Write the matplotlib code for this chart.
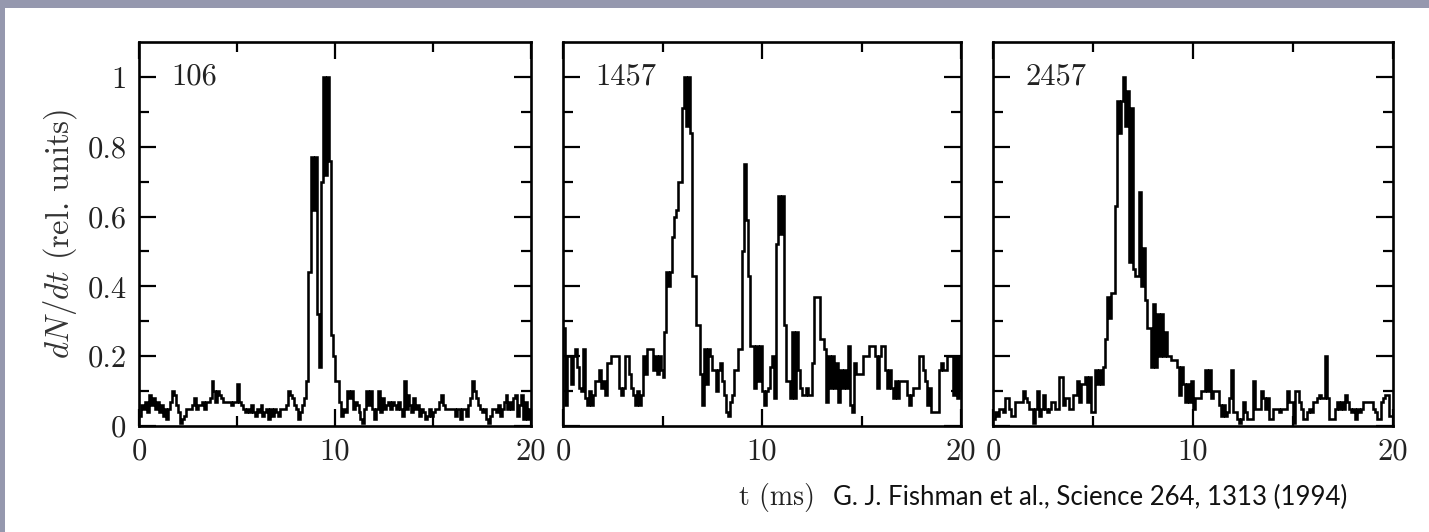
import numpy as np
import matplotlib
matplotlib.use("Agg")
import matplotlib.pyplot as plt
from matplotlib.patches import Rectangle

plt.rcParams['mathtext.fontset'] = 'cm'

# ---------------- data (0.1 ms bins, 0-20 ms) ----------------
BIN_WIDTH = 0.1
trigger_labels = ["106", "1457", "2457"]

counts_106 = [
    0.03, 0.06, 0.05, 0.07, 0.04, 0.09, 0.06, 0.08, 0.05, 0.07,
    0.04, 0.06, 0.03, 0.05, 0.02, 0.05, 0.07, 0.10, 0.09, 0.06,
    0.04, 0.01, 0.02, 0.03, 0.05, 0.05, 0.05, 0.06, 0.08, 0.05,
    0.06, 0.06, 0.07, 0.05, 0.07, 0.07, 0.08, 0.13, 0.10, 0.07,
    0.10, 0.09, 0.08, 0.07, 0.07, 0.07, 0.07, 0.06, 0.07, 0.07,
    0.12, 0.07, 0.06, 0.05, 0.04, 0.05, 0.04, 0.06, 0.04, 0.03,
    0.05, 0.04, 0.06, 0.03, 0.04, 0.05, 0.02, 0.05, 0.03, 0.05,
    0.04, 0.03, 0.05, 0.05, 0.05, 0.06, 0.10, 0.09, 0.08, 0.06,
    0.05, 0.02, 0.04, 0.06, 0.08, 0.13, 0.44, 0.44, 0.77, 0.62,
    0.77, 0.32, 0.17, 0.70, 1.00, 0.72, 1.00, 0.76, 0.26, 0.20,
    0.13, 0.13, 0.07, 0.03, 0.05, 0.04, 0.10, 0.08, 0.10, 0.05,
    0.07, 0.06, 0.04, 0.02, 0.01, 0.05, 0.10, 0.06, 0.10, 0.05,
    0.02, 0.05, 0.10, 0.04, 0.08, 0.05, 0.06, 0.07, 0.05, 0.07,
    0.06, 0.05, 0.07, 0.05, 0.03, 0.13, 0.05, 0.09, 0.06, 0.04,
    0.08, 0.05, 0.06, 0.03, 0.05, 0.04, 0.02, 0.03, 0.05, 0.03,
    0.04, 0.05, 0.05, 0.07, 0.09, 0.06, 0.05, 0.05, 0.05, 0.05,
    0.05, 0.03, 0.05, 0.05, 0.02, 0.05, 0.05, 0.03, 0.06, 0.08,
    0.13, 0.10, 0.08, 0.06, 0.05, 0.04, 0.05, 0.02, 0.01, 0.03,
    0.05, 0.05, 0.04, 0.06, 0.03, 0.05, 0.07, 0.09, 0.05, 0.07,
    0.05, 0.08, 0.09, 0.03, 0.06, 0.09, 0.02, 0.07, 0.02, 0.05,
]

counts_1457 = [
    0.28, 0.06, 0.20, 0.20, 0.12, 0.20, 0.22, 0.17, 0.11, 0.10,
    0.22, 0.08, 0.06, 0.10, 0.06, 0.09, 0.13, 0.13, 0.16, 0.11,
    0.13, 0.09, 0.18, 0.18, 0.20, 0.20, 0.20, 0.20, 0.11, 0.09,
    0.11, 0.20, 0.20, 0.15, 0.11, 0.09, 0.06, 0.10, 0.06, 0.09,
    0.20, 0.15, 0.22, 0.22, 0.22, 0.16, 0.20, 0.15, 0.20, 0.16,
    0.14, 0.27, 0.44, 0.40, 0.44, 0.54, 0.60, 0.62, 0.70, 0.70,
    0.91, 1.00, 0.86, 1.00, 0.84, 0.43, 0.43, 0.29, 0.29, 0.15,
    0.06, 0.22, 0.12, 0.22, 0.20, 0.16, 0.16, 0.10, 0.16, 0.18,
    0.13, 0.09, 0.04, 0.03, 0.07, 0.09, 0.16, 0.16, 0.22, 0.22,
    0.50, 0.75, 0.59, 0.43, 0.23, 0.23, 0.11, 0.23, 0.13, 0.23,
    0.10, 0.06, 0.10, 0.11, 0.17, 0.20, 0.08, 0.52, 0.66, 0.55,
    0.66, 0.29, 0.13, 0.13, 0.08, 0.27, 0.08, 0.27, 0.16, 0.11,
    0.09, 0.09, 0.11, 0.09, 0.09, 0.18, 0.37, 0.37, 0.37, 0.25,
    0.25, 0.22, 0.07, 0.20, 0.11, 0.20, 0.11, 0.18, 0.07, 0.16,
    0.11, 0.16, 0.11, 0.23, 0.06, 0.04, 0.18, 0.15, 0.15, 0.15,
    0.15, 0.20, 0.20, 0.20, 0.23, 0.23, 0.23, 0.20, 0.11, 0.20,
    0.23, 0.23, 0.16, 0.11, 0.16, 0.11, 0.08, 0.13, 0.08, 0.13,
    0.13, 0.13, 0.13, 0.09, 0.06, 0.09, 0.11, 0.11, 0.11, 0.20,
    0.20, 0.16, 0.13, 0.06, 0.11, 0.04, 0.04, 0.04, 0.04, 0.16,
    0.18, 0.16, 0.16, 0.20, 0.20, 0.20, 0.09, 0.20, 0.08, 0.20,
]

counts_2457 = [
    0.02, 0.04, 0.03, 0.05, 0.05, 0.04, 0.08, 0.08, 0.05, 0.03,
    0.03, 0.07, 0.07, 0.07, 0.07, 0.10, 0.08, 0.07, 0.05, 0.05,
    0.01, 0.05, 0.10, 0.03, 0.05, 0.09, 0.05, 0.04, 0.05, 0.07,
    0.07, 0.05, 0.05, 0.14, 0.14, 0.06, 0.08, 0.08, 0.05, 0.05,
    0.09, 0.09, 0.13, 0.07, 0.12, 0.12, 0.14, 0.07, 0.14, 0.04,
    0.04, 0.16, 0.12, 0.16, 0.12, 0.17, 0.25, 0.37, 0.31, 0.38,
    0.38, 0.63, 0.93, 0.84, 0.93, 1.00, 0.86, 0.96, 0.47, 0.91,
    0.45, 0.43, 0.43, 0.67, 0.40, 0.51, 0.36, 0.28, 0.28, 0.17,
    0.35, 0.17, 0.32, 0.20, 0.32, 0.20, 0.27, 0.20, 0.20, 0.19,
    0.19, 0.19, 0.17, 0.09, 0.17, 0.12, 0.07, 0.12, 0.07, 0.13,
    0.05, 0.08, 0.08, 0.08, 0.10, 0.10, 0.16, 0.10, 0.16, 0.08,
    0.10, 0.10, 0.10, 0.06, 0.03, 0.06, 0.03, 0.04, 0.08, 0.16,
    0.04, 0.04, 0.02, 0.01, 0.02, 0.07, 0.04, 0.02, 0.02, 0.02,
    0.13, 0.05, 0.05, 0.05, 0.10, 0.08, 0.05, 0.08, 0.02, 0.02,
    0.05, 0.05, 0.05, 0.04, 0.05, 0.05, 0.05, 0.10, 0.07, 0.07,
    0.01, 0.10, 0.10, 0.07, 0.05, 0.02, 0.02, 0.04, 0.05, 0.04,
    0.07, 0.07, 0.08, 0.09, 0.08, 0.08, 0.20, 0.08, 0.02, 0.02,
    0.02, 0.05, 0.07, 0.05, 0.07, 0.05, 0.09, 0.07, 0.05, 0.04,
    0.05, 0.02, 0.05, 0.04, 0.05, 0.07, 0.07, 0.07, 0.07, 0.07,
    0.05, 0.04, 0.02, 0.02, 0.07, 0.08, 0.09, 0.09, 0.03, 0.03,
]

x_ticks = [0, 10, 20]
x_tick_labels = ["0", "10", "20"]
y_ticks = [0, 0.2, 0.4, 0.6, 0.8, 1.0]
y_tick_labels = ["0", "0.2", "0.4", "0.6", "0.8", "1"]
y_label = r"$dN/dt$ (rel. units)"
x_label = "t (ms)"
citation = "G. J. Fishman et al., Science 264, 1313 (1994)"

all_counts = [counts_106, counts_1457, counts_2457]

# ---------------- figure ----------------
W, H = 1429, 532
fig = plt.figure(figsize=(W / 100, H / 100), dpi=100)
fig.patch.set_facecolor("white")

# slide border strips
border = "#9598ae"
fig.patches.append(Rectangle((0, 1 - 8 / H), 1, 8 / H, transform=fig.transFigure,
                             facecolor=border, edgecolor="none", zorder=0))
fig.patches.append(Rectangle((0, 0), 5 / W, 1, transform=fig.transFigure,
                             facecolor=border, edgecolor="none", zorder=0))

panel_px = [(139, 531), (563, 961), (993, 1393)]
top_px, bot_px = 42, 426
TXT = "#222222"
TICKFONT = "cmr10"
TICKSIZE = 22

for i, ((x0, x1), counts, lab) in enumerate(zip(panel_px, all_counts, trigger_labels)):
    ax = fig.add_axes([x0 / W, 1 - bot_px / H, (x1 - x0) / W, (bot_px - top_px) / H])
    edges = np.arange(len(counts) + 1) * BIN_WIDTH
    ax.stairs(counts, edges, baseline=None, color="black", linewidth=1.85)
    ax.set_xlim(0, 20)
    ax.set_ylim(0, 1.1)
    for s in ax.spines.values():
        s.set_linewidth(1.9)
    ax.set_xticks(x_ticks)
    ax.set_xticks([5, 15], minor=True)
    ax.set_yticks(y_ticks)
    ax.set_yticks([0.1, 0.3, 0.5, 0.7, 0.9], minor=True)
    ax.tick_params(which="both", direction="in", top=True, right=True, width=1.6, color="black")
    ax.tick_params(which="major", length=12.5)
    ax.tick_params(which="minor", length=7)
    ax.tick_params(axis="x", which="major", pad=9)
    ax.tick_params(axis="y", which="major", pad=9)
    ax.set_xticklabels(x_tick_labels, fontfamily=TICKFONT, fontsize=TICKSIZE, color=TXT)
    if i == 0:
        ax.set_yticklabels(y_tick_labels, fontfamily=TICKFONT, fontsize=TICKSIZE, color=TXT)
        ax.set_ylabel(y_label, fontfamily=TICKFONT, fontsize=23.5, color="#333333", labelpad=6)
    else:
        ax.set_yticklabels([])
    ax.text(0.082, 0.909, lab, transform=ax.transAxes, ha="left", va="center",
            fontfamily=TICKFONT, fontsize=TICKSIZE, color=TXT)

fig.text(777 / W, 1 - 497 / H, x_label, ha="center", va="center",
         fontfamily=TICKFONT, fontsize=20, color=TXT)
fig.text(833 / W, 1 - 497 / H, citation, ha="left", va="center",
         fontfamily="Lato", fontsize=18.5, color="#111111")

fig.savefig("out.png", dpi=100)
